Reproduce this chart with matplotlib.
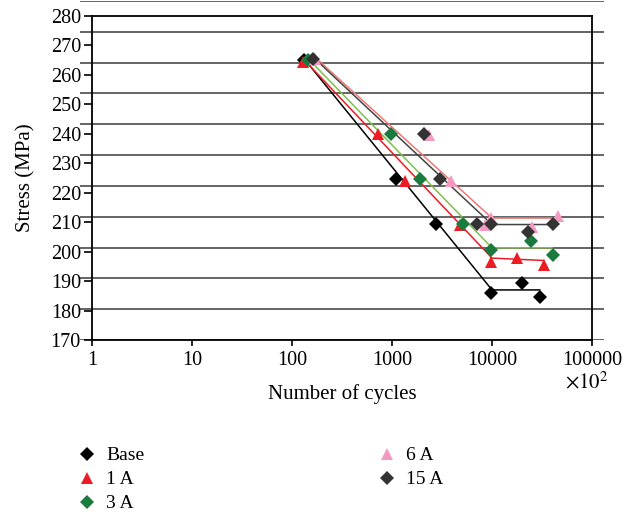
import matplotlib.pyplot as plt

plt.rcParams['font.family'] = ['Liberation Serif', 'DejaVu Serif']

# measured points (cycles x10^2, stress MPa)
base_n = [132, 1100, 2750, 9850, 20100, 30200]
base_s = [265, 224.5, 209.5, 186, 189.5, 184.5]
base_fit_n = [132, 10000, 30000]
base_fit_s = [265.5, 187, 187]

a1_n = [129, 720, 1350, 4820, 9850, 17900, 32900]
a1_s = [264.5, 240, 224, 209, 196.5, 198, 195.5]
a1_fit_n = [129, 10000, 33000]
a1_fit_s = [265.5, 197.8, 197]

a3_n = [145, 980, 1900, 5130, 9850, 24700, 40400]
a3_s = [265, 240, 224.5, 209.5, 200.5, 203.5, 199]
a3_fit_n = [145, 10000, 40000]
a3_fit_s = [265.5, 201.3, 201.3]

a6_n = [170, 2350, 3900, 8500, 9850, 25300, 45400]
a6_s = [265.5, 239.5, 224, 209, 211.5, 208.5, 212]
a6_fit_n = [170, 10000, 45000]
a6_fit_s = [266, 211.4, 211.4]

a15_n = [163, 2100, 3040, 7000, 9850, 23100, 41000]
a15_s = [265.5, 240, 224.5, 209.5, 209.5, 206.5, 209.5]
a15_fit_n = [163, 10000, 41000]
a15_fit_s = [266, 209.2, 209.2]

y_ticks = list(range(170, 290, 10))
x_ticks = [1, 10, 100, 1000, 10000, 100000]

fig = plt.figure(figsize=(6.33, 5.14), dpi=100)

# stray horizontal rules behind the plot (offset from the y ticks in the source)
bg = fig.add_axes([80 / 633, 1 - 340 / 514, 524 / 633, 339 / 514])
bg.set_xlim(0, 1)
bg.set_ylim(0, 11)
for k in range(12):
    bg.axhline(k, color='#3a3a3a', lw=1.1)
bg.axis('off')

ax = fig.add_axes([92 / 633, 1 - 340 / 514, 500 / 633, 324 / 514])
ax.set_facecolor('none')
ax.set_xscale('log')
ax.set_xlim(1, 100000)
ax.set_ylim(170, 280)

series = [
    ('Base', base_n, base_s, base_fit_n, base_fit_s, 'D', 'black', 'black', 7),
    ('1 A', a1_n, a1_s, a1_fit_n, a1_fit_s, '^', '#ed1c24', '#ed1c24', 8.5),
    ('3 A', a3_n, a3_s, a3_fit_n, a3_fit_s, 'D', '#1b7a3e', '#7cc24a', 7),
    ('6 A', a6_n, a6_s, a6_fit_n, a6_fit_s, '^', '#f49ac1', '#f07878', 8.5),
    ('15 A', a15_n, a15_s, a15_fit_n, a15_fit_s, 'D', '#333333', '#444444', 7),
]

handles = []
for name, n, s, fn, fs, mk, mc, lc, ms in series:
    ax.plot(fn, fs, color=lc, lw=1.1, zorder=2)
    h, = ax.plot(n, s, ls='none', marker=mk, color=mc, ms=ms, mew=0, zorder=3, label=name)
    handles.append(h)

ax.set_yticks(y_ticks)
ax.set_xticks(x_ticks)
ax.set_xticklabels([str(v) for v in x_ticks])
ax.minorticks_off()
ax.tick_params(axis='y', direction='out', length=6, width=1.2, labelsize=14.5, pad=2)
ax.tick_params(axis='x', direction='out', length=4, width=1.2, labelsize=14.5, pad=4)
for sp in ax.spines.values():
    sp.set_linewidth(1.3)

ax.set_xlabel('Number of cycles', fontsize=15, labelpad=10)
ax.set_ylabel('Stress (MPa)', fontsize=15, labelpad=11)
ax.text(0.99, -0.13, r'$\times10^2$', transform=ax.transAxes, fontsize=15, ha='center', va='center',
        math_fontfamily='stix')

fig.legend(handles=handles, ncol=2, loc='upper left', bbox_to_anchor=(68 / 633, 1 - 437 / 514),
           frameon=False, fontsize=14, handlelength=1.0, handletextpad=0.45,
           columnspacing=12.0, labelspacing=0.33, borderpad=0)

fig.savefig('out.png', dpi=100)
